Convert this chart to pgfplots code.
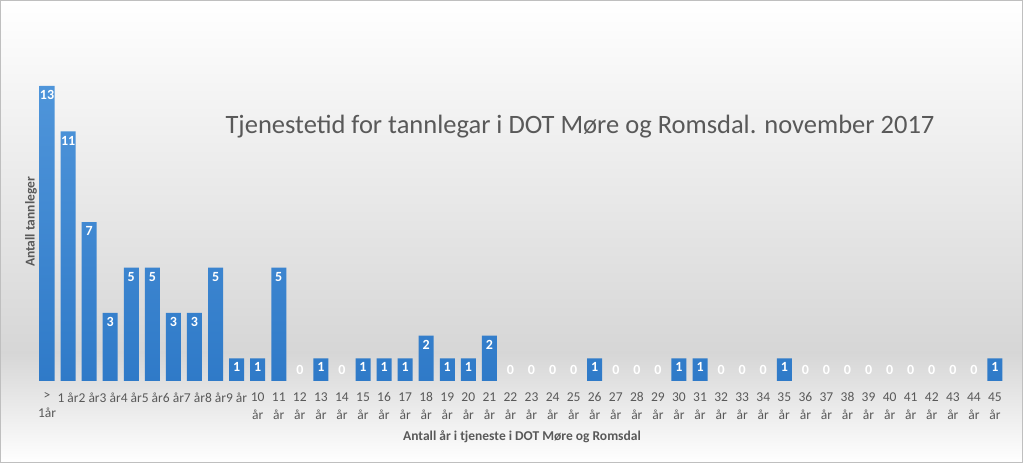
\documentclass[border=0pt]{standalone}
\usepackage{fontspec}
\setmainfont{Carlito}
\usepackage{pgfplots}
\pgfplotsset{compat=1.18}
\definecolor{TxtGray}{HTML}{595959}
\definecolor{BarTop}{HTML}{4F95DA}
\definecolor{BarBot}{HTML}{2F7AC8}

\begin{document}
\begin{tikzpicture}
% background
\shade[top color=white, bottom color=black!16] (0pt,463pt) rectangle (1023pt,110pt);
\shade[top color=black!16, bottom color=white] (0pt,110pt) rectangle (1023pt,0pt);
\draw[black!25, line width=1pt] (0.5pt,0.5pt) rectangle (1022.5pt,462.5pt);
\useasboundingbox (0pt,0pt) rectangle (1023pt,463pt);

\begin{axis}[
  at={(36.5pt,82pt)}, anchor=south west,
  scale only axis, width=969pt, height=295pt,
  xmin=-0.5, xmax=45.5, ymin=0, ymax=13,
  axis line style={draw=none}, ytick=\empty,
  xtick={0,...,45}, major tick length=0pt,
  /pgf/number format/assume math mode=true,
  xticklabels={{>\\1år},{1 år},{2 år},{3 år},{4 år},{5 år},{6 år},{7 år},{8 år},{9 år},
    {10\\år},{11\\år},{12\\år},{13\\år},{14\\år},{15\\år},{16\\år},{17\\år},{18\\år},{19\\år},
    {20\\år},{21\\år},{22\\år},{23\\år},{24\\år},{25\\år},{26\\år},{27\\år},{28\\år},{29\\år},
    {30\\år},{31\\år},{32\\år},{33\\år},{34\\år},{35\\år},{36\\år},{37\\år},{38\\år},{39\\år},
    {40\\år},{41\\år},{42\\år},{43\\år},{44\\år},{45\\år}},
  xticklabel style={align=center, text=TxtGray, font=\fontsize{13.5}{18}\selectfont, yshift=-8pt},
  clip=false]
\addplot[ybar, bar width=15pt, draw=none, top color=BarTop, bottom color=BarBot,
  nodes near coords,
  nodes near coords style={anchor=north, text=white, yshift=-1pt, font=\bfseries\fontsize{14}{14}\selectfont}]
  coordinates {
  (0,13) (1,11) (2,7) (3,3) (4,5) (5,5) (6,3) (7,3) (8,5) (9,1) (10,1) (11,5)
  (13,1) (15,1) (16,1) (17,1) (18,2) (19,1) (20,1) (21,2)
  (26,1) (30,1) (31,1) (35,1) (45,1)};
\addplot[draw=none, mark=none,
  nodes near coords,
  nodes near coords style={anchor=south, text=white, yshift=3pt, font=\bfseries\fontsize{14}{14}\selectfont}]
  coordinates {
  (12,0) (14,0) (22,0) (23,0) (24,0) (25,0) (27,0) (28,0) (29,0)
  (32,0) (33,0) (34,0) (36,0) (37,0) (38,0) (39,0) (40,0) (41,0) (42,0) (43,0) (44,0)};
\end{axis}

\node[text=TxtGray, font=\fontsize{26.5}{26.5}\selectfont] at (580pt,336pt) {Tjenestetid for tannlegar i DOT Møre og Romsdal. november 2017};
\node[text=TxtGray, rotate=90, font=\bfseries\fontsize{13.5}{13.5}\selectfont] at (31pt,241pt) {Antall tannleger};
\node[text=TxtGray, font=\bfseries\fontsize{13.5}{13.5}\selectfont] at (522pt,26pt) {Antall år i tjeneste i DOT Møre og Romsdal};
\end{tikzpicture}
\end{document}
